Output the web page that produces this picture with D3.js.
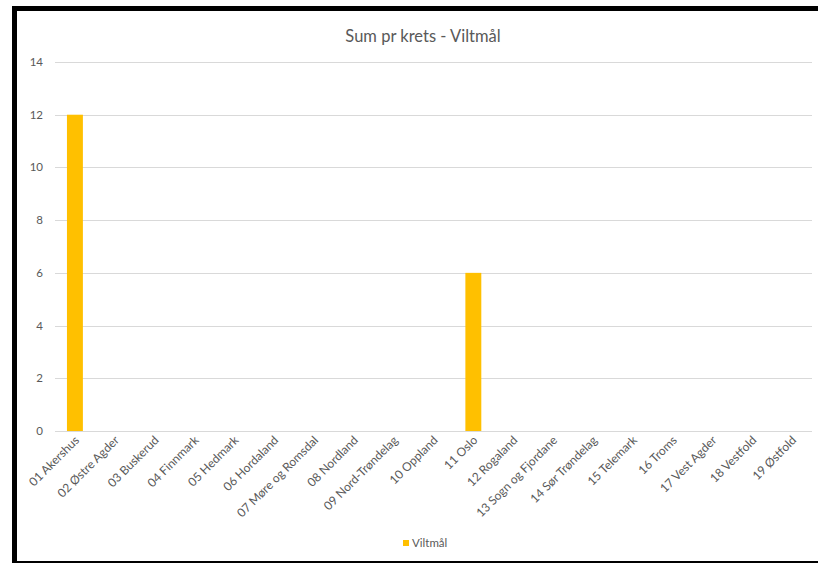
<!DOCTYPE html>
<html><head><meta charset="utf-8">
<script src="https://cdn.jsdelivr.net/npm/d3@7"></script>
<style>html,body{margin:0;padding:0;background:#fff;}svg{display:block;}</style>
</head><body>
<script>
const categories = ["01 Akershus","02 Østre Agder","03 Buskerud","04 Finnmark","05 Hedmark","06 Hordaland","07 Møre og Romsdal","08 Nordland","09 Nord-Trøndelag","10 Oppland","11 Oslo","12 Rogaland","13 Sogn og Fjordane","14 Sør Trøndelag","15 Telemark","16 Troms","17 Vest Agder","18 Vestfold","19 Østfold"];
const values = [12,0,0,0,0,0,0,0,0,0,6,0,0,0,0,0,0,0,0];
const yTicks = [0,2,4,6,8,10,12,14];
const seriesName = "Viltmål";
const title = "Sum pr krets - Viltmål";

const W = 818, H = 563;
const svg = d3.select("body").append("svg").attr("width", W).attr("height", H);
const font = "Lato, 'Open Sans', sans-serif";
const grey = "#595959";

// frame
svg.append("rect").attr("x", 14.5).attr("y", 8.5).attr("width", 900).attr("height", 555)
  .attr("fill", "#fff").attr("stroke", "#000").attr("stroke-width", 5);

const x = d3.scaleBand().domain(categories).range([55, 812]).paddingInner(0.6).paddingOuter(0.3);
const y = d3.scaleLinear().domain([0, 14]).range([431, 62]);

// gridlines
svg.append("g").selectAll("line").data(yTicks).join("line")
  .attr("x1", 55).attr("x2", 812)
  .attr("y1", d => Math.round(y(d)) + 0.5).attr("y2", d => Math.round(y(d)) + 0.5)
  .attr("stroke", "#d9d9d9").attr("stroke-width", 1);

// y labels
svg.append("g").selectAll("text").data(yTicks).join("text")
  .attr("x", 43).attr("y", d => y(d)).attr("dy", "0.35em")
  .attr("text-anchor", "end").attr("font-family", font).attr("font-size", 11.5)
  .attr("fill", grey).text(d => d);

// bars
svg.append("g").selectAll("rect").data(values).join("rect")
  .attr("x", (d, i) => x(categories[i])).attr("width", x.bandwidth())
  .attr("y", d => y(d)).attr("height", d => y(0) - y(d))
  .attr("fill", "#ffc000");

// x labels
svg.append("g").selectAll("text").data(categories).join("text")
  .attr("transform", d => `translate(${x(d) + x.bandwidth() / 2 + 5},${441}) rotate(-45)`)
  .attr("text-anchor", "end").attr("font-family", font).attr("font-size", 12)
  .attr("fill", grey).text(d => d);

// title
svg.append("text").attr("x", 423).attr("y", 42).attr("text-anchor", "middle")
  .attr("font-family", font).attr("font-size", 16.5).attr("fill", grey).text(title);

// legend
const lg = svg.append("g");
lg.append("rect").attr("x", 403).attr("y", 540).attr("width", 6).attr("height", 6).attr("fill", "#ffc000");
lg.append("text").attr("x", 412).attr("y", 543).attr("dy", "0.35em")
  .attr("font-family", font).attr("font-size", 11.5).attr("fill", grey).text(seriesName);
</script>
</body></html>
